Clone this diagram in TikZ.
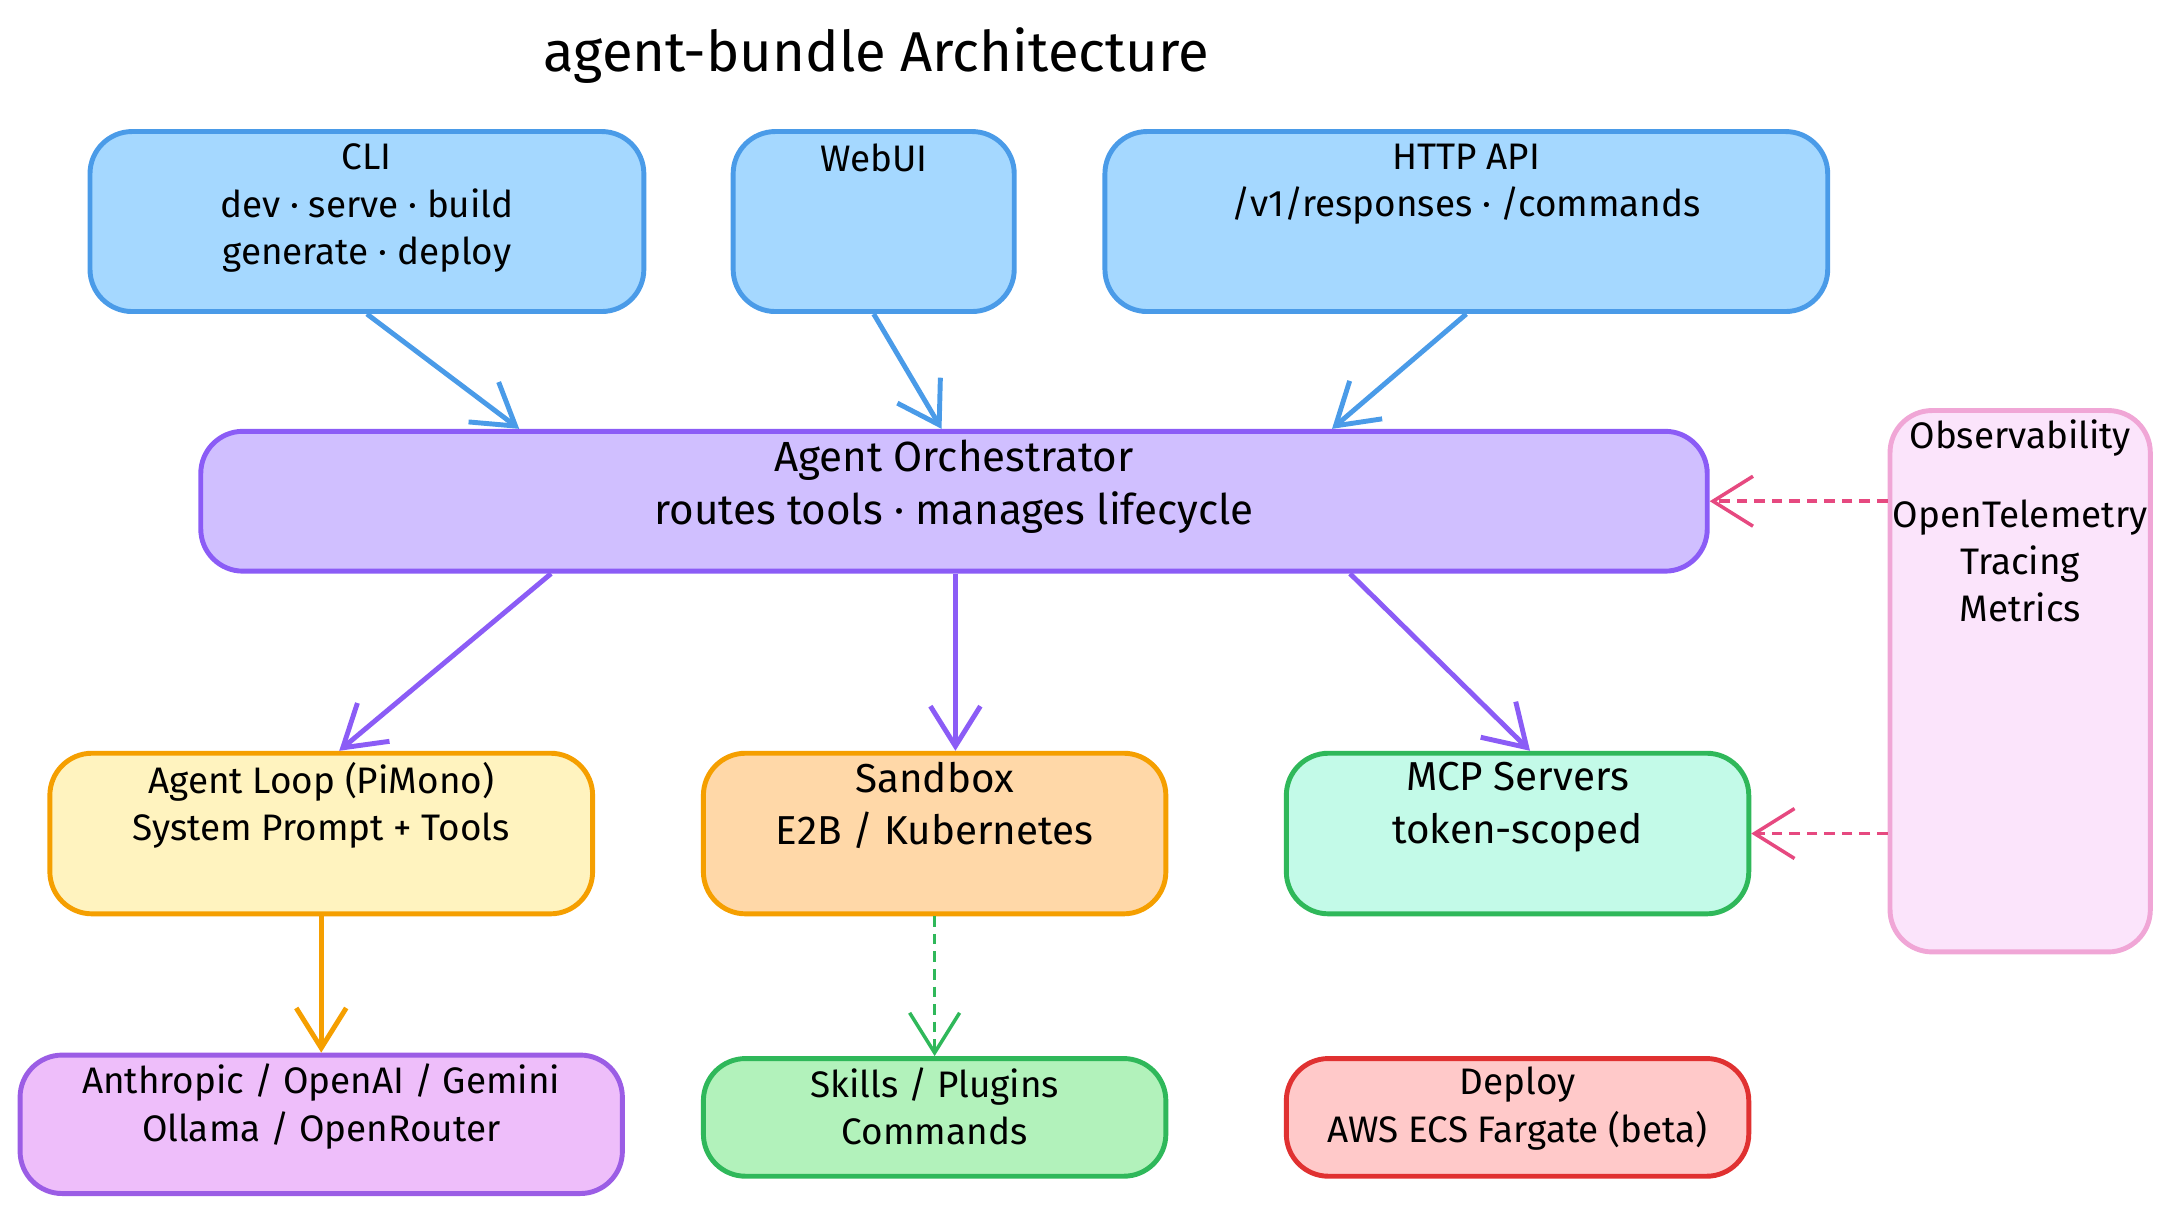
\documentclass[tikz,border=0pt]{standalone}
\usepackage{fontspec}
\setmainfont{Fira Sans}
\usetikzlibrary{arrows.meta,positioning}

\definecolor{blueF}{HTML}{A5D8FF}\definecolor{blueD}{HTML}{4A9BE8}
\definecolor{violF}{HTML}{D0BFFF}\definecolor{violD}{HTML}{8B5CF6}
\definecolor{pinkF}{HTML}{FBE4FB}\definecolor{pinkD}{HTML}{F0A6D6}\definecolor{pinkA}{HTML}{E64980}
\definecolor{yellF}{HTML}{FFF3BF}\definecolor{orD}{HTML}{F59F00}
\definecolor{orF}{HTML}{FFD8A8}
\definecolor{mintF}{HTML}{C3FAE8}\definecolor{grD}{HTML}{2FB85A}
\definecolor{lilF}{HTML}{EEBEFA}\definecolor{lilD}{HTML}{9B5DE5}
\definecolor{grF}{HTML}{B2F2BB}
\definecolor{redF}{HTML}{FFC9C9}\definecolor{redD}{HTML}{E03131}

\begin{document}
\begin{tikzpicture}[x=0.01385cm,y=-0.01385cm,
    box/.style={draw, line width=1.4pt, rounded corners=12pt, inner sep=0pt},
    txt/.style={align=center, font=\fontsize{10.5pt}{13.5pt}\selectfont, inner sep=2pt},
    conn/.style={line width=1.4pt, -{Straight Barb[length=4mm,width=5mm]}},
    dconn/.style={conn, densely dashed, line width=1pt}]
  % -----------------------------
  % Frame
  % -----------------------------
  \useasboundingbox (0,0) rectangle (1560,874);
  \def\u{0.01385cm}

  \node[font=\fontsize{16pt}{20pt}\selectfont] (title) at (633,40) {agent-bundle Architecture};

  % -----------------------------
  % Entry points
  % -----------------------------
  \node[box, draw=blueD, fill=blueF, minimum width={400*\u}, minimum height={130*\u}] (cli) at (265,160) {};
  \node[txt, below=2pt of cli.north] {CLI\\dev · serve · build\\generate · deploy};
  \node[box, draw=blueD, fill=blueF, minimum width={203*\u}, minimum height={130*\u}] (web) at (631,160) {};
  \node[txt, below=2pt of web.north] {WebUI};
  \node[box, draw=blueD, fill=blueF, minimum width={522*\u}, minimum height={130*\u}] (http) at (1059,160) {};
  \node[txt, below=2pt of http.north] {HTTP API\\/v1/responses · /commands};

  % -----------------------------
  % Orchestrator and observability
  % -----------------------------
  \node[box, draw=violD, fill=violF, minimum width={1088*\u}, minimum height={101*\u}] (orch) at (689,362) {};
  \node[txt, font=\fontsize{12pt}{15pt}\selectfont, below=1pt of orch.north] {Agent Orchestrator\\routes tools · manages lifecycle};
  \node[box, draw=pinkD, fill=pinkF, minimum width={188*\u}, minimum height={391*\u}] (obs) at (1459,492) {};
  \node[txt, below=1pt of obs.north] {Observability\\[9pt]OpenTelemetry\\Tracing\\Metrics};

  % -----------------------------
  % Runtime row
  % -----------------------------
  \node[box, draw=orD, fill=yellF, minimum width={392*\u}, minimum height={116*\u}] (loop) at (232,602) {};
  \node[txt, below=1pt of loop.north] {Agent Loop (PiMono)\\System Prompt + Tools};
  \node[box, draw=orD, fill=orF, minimum width={334*\u}, minimum height={116*\u}] (sand) at (675,602) {};
  \node[txt, font=\fontsize{11.5pt}{15pt}\selectfont, below=1pt of sand.north] {Sandbox\\E2B / Kubernetes};
  \node[box, draw=grD, fill=mintF, minimum width={334*\u}, minimum height={116*\u}] (mcp) at (1096,602) {};
  \node[txt, font=\fontsize{11.5pt}{15pt}\selectfont, below=1pt of mcp.north] {MCP Servers\\token-scoped};

  % -----------------------------
  % Bottom row
  % -----------------------------
  \node[box, draw=lilD, fill=lilF, minimum width={435*\u}, minimum height={100*\u}] (llm) at (232,812) {};
  \node[txt, below=1pt of llm.north] {Anthropic / OpenAI / Gemini\\Ollama / OpenRouter};
  \node[box, draw=grD, fill=grF, minimum width={334*\u}, minimum height={85*\u}] (skill) at (675,807) {};
  \node[txt, below=1pt of skill.north] {Skills / Plugins\\Commands};
  \node[box, draw=redD, fill=redF, minimum width={334*\u}, minimum height={85*\u}] (dep) at (1096,807) {};
  \node[txt, below=1pt of dep.north] {Deploy\\AWS ECS Fargate (beta)};

  % -----------------------------
  % Connectors
  % -----------------------------
  \draw[conn, blueD] (cli.south) -- ([xshift={-314*\u}]orch.north);
  \draw[conn, blueD] (web.south) -- ([xshift={-9*\u}]orch.north);
  \draw[conn, blueD] (http.south) -- ([xshift={273*\u}]orch.north);
  \draw[conn, violD] ([xshift={-291*\u}]orch.south) -- ([xshift={13*\u}]loop.north);
  \draw[conn, violD] ([xshift={1*\u}]orch.south) -- ([xshift={15*\u}]sand.north);
  \draw[conn, violD] ([xshift={286*\u}]orch.south) -- ([xshift={9*\u}]mcp.north);
  \draw[conn, orD] (loop.south) -- (llm.north);
  \draw[dconn, grD] (sand.south) -- (skill.north);
  \draw[dconn, pinkA] ([yshift={130*\u}]obs.west) -- (orch.east);
  \draw[dconn, pinkA] ([yshift={-110*\u}]obs.west) -- (mcp.east);
\end{tikzpicture}
\end{document}
